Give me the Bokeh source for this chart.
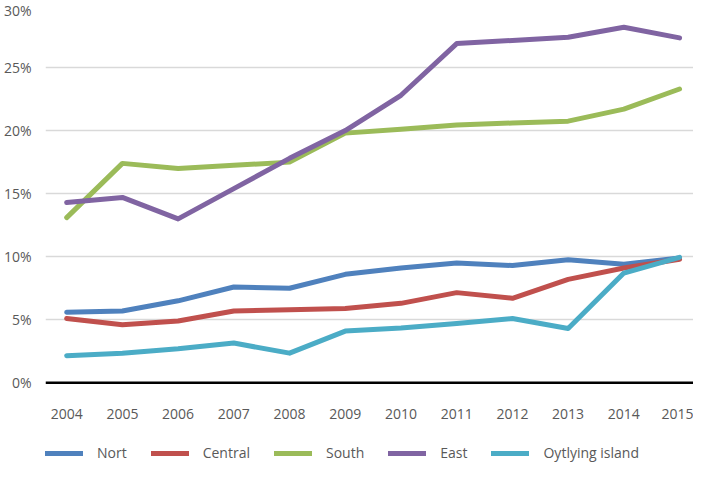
from bokeh.plotting import figure
from bokeh.models import FixedTicker, Legend, LegendItem, Range1d, Span, CustomJSTickFormatter
from bokeh.embed import file_html
from bokeh.resources import INLINE

years = [2004, 2005, 2006, 2007, 2008, 2009, 2010, 2011, 2012, 2013, 2014, 2015]
nort = [5.6, 5.7, 6.5, 7.6, 7.5, 8.6, 9.1, 9.5, 9.3, 9.75, 9.4, 9.9]
central = [5.1, 4.6, 4.9, 5.7, 5.8, 5.9, 6.3, 7.15, 6.7, 8.2, 9.1, 9.8]
south = [13.1, 17.4, 17.0, 17.25, 17.5, 19.8, 20.1, 20.45, 20.6, 20.75, 21.7, 23.3]
east = [14.3, 14.7, 13.0, 15.4, 17.8, 20.0, 22.8, 26.9, 27.15, 27.4, 28.2, 27.35]
outlying = [2.15, 2.35, 2.7, 3.15, 2.35, 4.1, 4.35, 4.7, 5.1, 4.3, 8.7, 9.95]
series_names = ["Nort", "Central", "South", "East", "Oytlying island"]
colors = ["#4F81BD", "#C0504D", "#9BBB59", "#8064A2", "#4BACC6"]
y_ticks = [0, 5, 10, 15, 20, 25, 30]

p = figure(width=693, height=463, output_backend="svg", toolbar_location=None,
           x_range=Range1d(2003.62, 2015.25), y_range=Range1d(-6.4, 30),
           min_border_left=32, min_border_right=0, min_border_top=4, min_border_bottom=0)
p.outline_line_color = None
p.background_fill_color = "white"

font = "Open Sans"
p.xaxis.ticker = FixedTicker(ticks=years)
p.xaxis.fixed_location = 0
p.yaxis.ticker = FixedTicker(ticks=y_ticks)
p.yaxis.formatter = CustomJSTickFormatter(code="return tick + '%';")
for ax in (p.xaxis[0], p.yaxis[0]):
    ax.axis_line_color = None
    ax.major_tick_line_color = None
    ax.minor_tick_line_color = None
    ax.major_label_text_font = font
    ax.major_label_text_font_size = "14px"
    ax.major_label_text_color = "#595959"
p.xaxis.major_label_standoff = 20
p.yaxis.major_label_standoff = 8

p.xgrid.grid_line_color = None
p.ygrid.ticker = FixedTicker(ticks=y_ticks[1:])
p.ygrid.grid_line_color = "#D9D9D9"
p.ygrid.grid_line_width = 1.5

p.add_layout(Span(location=0, dimension="width", line_color="black", line_width=2.5))

data = [nort, central, south, east, outlying]
items = []
for name, vals, c in zip(series_names, data, colors):
    r = p.line(years, vals, line_color=c, line_width=5, line_join="round", line_cap="round")
    items.append(LegendItem(label=name, renderers=[r]))

legend = Legend(items=items, orientation="horizontal", location=(0, 1),
                label_text_font=font, label_text_font_size="14px", label_text_color="#595959",
                glyph_width=38, glyph_height=14, label_standoff=14, spacing=24,
                padding=0, margin=0, label_height=14,
                border_line_color=None, background_fill_alpha=0)
p.add_layout(legend, "center")

open("out.html", "w").write(file_html(p, INLINE))
